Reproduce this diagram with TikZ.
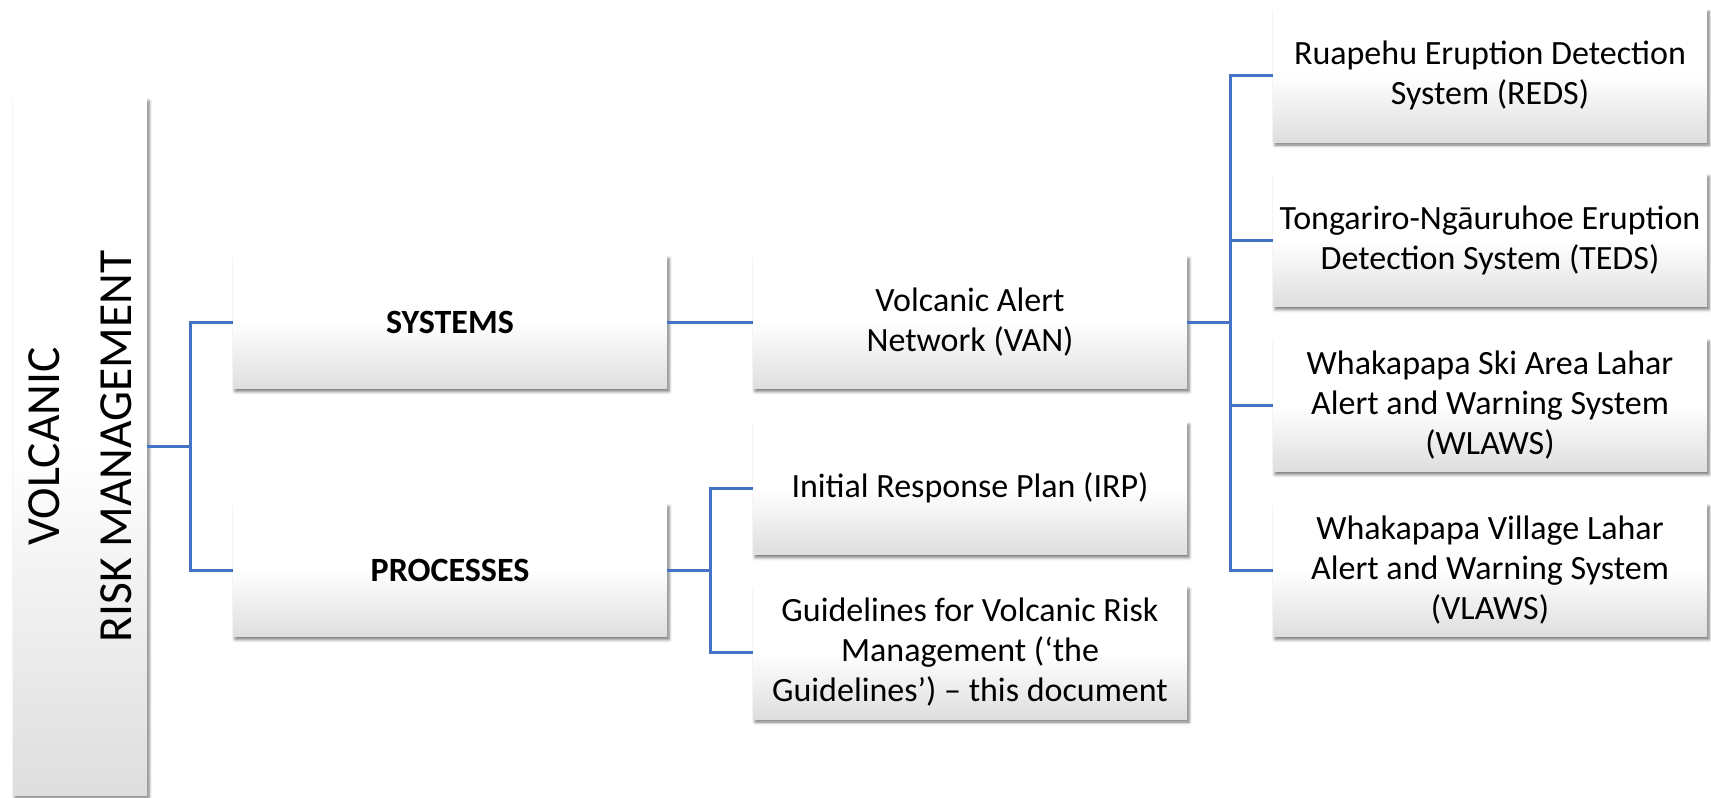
\documentclass[tikz,border=0pt]{standalone}
\usepackage{fontspec}
\setmainfont{Carlito}
\usetikzlibrary{shadows.blur}

\definecolor{linkblue}{HTML}{4472C4}

\begin{document}
\begin{tikzpicture}[
            x=0.5pt,
            y=-0.5pt,
            box/.style={
                rectangle,
                top color=white,
                bottom color=black!13,
                middle color=white,
                blur shadow={shadow xshift=1pt, shadow yshift=-1.5pt,
                    shadow blur radius=1.5pt, shadow blur extra rounding=0pt,
                    shadow opacity=55},
                minimum width=217pt,
                minimum height=66.5pt,
                inner sep=2pt,
                align=center,
                font=\fontsize{17}{20}\selectfont
            },
            link/.style={
                draw=linkblue,
                line width=1.5pt
            }
        ]

            \useasboundingbox (0, 0) rectangle (1711, 797);

            \node[box, minimum width=67pt, minimum height=348.5pt] (vrm) at (80, 446.5) {};
            \node[rotate=90, align=center, font=\fontsize{23.75}{36}\selectfont] (vrmtext) at (vrm) {VOLCANIC\\RISK MANAGEMENT};

            \node[box, font=\fontsize{17}{20}\selectfont\bfseries] (sys) at (450, 322) {SYSTEMS};
            \node[box, font=\fontsize{17}{20}\selectfont\bfseries] (proc) at (450, 570) {PROCESSES};

            \node[box] (van) at (970, 322) {Volcanic Alert\\Network (VAN)};
            \node[box] (irp) at (970, 488) {Initial Response Plan (IRP)};
            \node[box] (gl) at (970, 652.5) {Guidelines for Volcanic Risk\\Management (‘the\\Guidelines’) – this document};

            \node[box] (reds) at (1490, 75.5) {Ruapehu Eruption Detection\\System (REDS)};
            \node[box] (teds) at (1490, 240) {Tongariro-Ngāuruhoe Eruption\\Detection System (TEDS)};
            \node[box] (wlaws) at (1490, 405) {Whakapapa Ski Area Lahar\\Alert and Warning System\\(WLAWS)};
            \node[box] (vlaws) at (1490, 570) {Whakapapa Village Lahar\\Alert and Warning System\\(VLAWS)};

            \coordinate (j1) at (190, 446.5);
            \coordinate (j2) at (710, 570);
            \coordinate (j3) at (1230, 322);

            \draw[link] (vrm.east) -- (j1);
            \draw[link] (sys.west) -| (j1) |- (proc.west);

            \draw[link] (sys.east) -- (van.west);

            \draw[link] (proc.east) -- (j2);
            \draw[link] (irp.west) -| (j2) |- (gl.west);

            \draw[link] (van.east) -- (j3);
            \draw[link] (reds.west) -| (j3) |- (vlaws.west);
            \draw[link] (teds.west) -- (teds.west -| j3);
            \draw[link] (wlaws.west) -- (wlaws.west -| j3);

        \end{tikzpicture}
\end{document}
